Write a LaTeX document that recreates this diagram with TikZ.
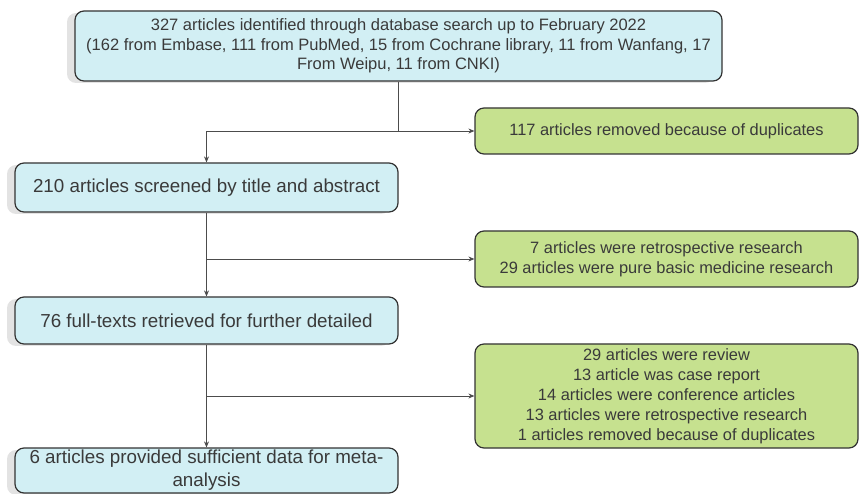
\documentclass[tikz,border=0pt]{standalone}
\usepackage{fontspec}
\setmainfont{Liberation Sans}
\usetikzlibrary{arrows.meta,positioning,shadows}
\definecolor{boxblue}{HTML}{D2EFF4}
\definecolor{boxgreen}{HTML}{C6E18F}
\definecolor{edgegray}{HTML}{333333}
\definecolor{txtgray}{HTML}{3A3A3A}
\tikzset{
  base/.style={draw=edgegray, line width=1.2pt, rounded corners=9pt, align=center, text=txtgray, inner sep=2pt},
  stage/.style={base, fill=boxblue, minimum width=383pt, font=\fontsize{18.8}{23}\selectfont,
    drop shadow={shadow xshift=-8pt, shadow yshift=-2pt, opacity=.22, fill=gray}},
  excl/.style={base, fill=boxgreen, minimum width=383pt, font=\fontsize{16.4}{20}\selectfont},
  arr/.style={draw=black!70, line width=0.8pt, -{Stealth[length=6pt,width=5pt]}}
}
\begin{document}
\begin{tikzpicture}[x=1pt,y=-1pt]
    \useasboundingbox (0,0) rectangle (860,494);
    % main stages
    \node[stage, minimum width=647pt, minimum height=70pt, font=\fontsize{16.5}{19.5}\selectfont] (ident) at (398.5,46)
      {327 articles identified through database search up to February 2022\\
       (162 from Embase, 111 from PubMed, 15 from Cochrane library, 11 from Wanfang, 17\\
       From Weipu, 11 from CNKI)};
    \node[stage, minimum height=49pt] (screen) at (206.5,187.5)
      {210 articles screened by title and abstract};
    \node[stage, minimum height=47pt] (fulltext) at (206.5,320.5)
      {76 full-texts retrieved for further detailed};
    \node[stage, minimum height=45pt] (incl) at (206.5,470.5)
      {6 articles provided sufficient data for meta-\\analysis};
    % exclusions
    \node[excl, minimum height=46pt] (dup) at (666.5,131)
      {117 articles removed because of duplicates};
    \node[excl, minimum height=56pt] (retro) at (666.5,259)
      {7 articles were retrospective research\\29 articles were pure basic medicine research};
    \node[excl, minimum height=104pt] (review) at (666.5,396)
      {29 articles were review\\13 article was case report\\14 articles were conference articles\\
       13 articles were retrospective research\\1 articles removed because of duplicates};
    % connectors
    \coordinate (j1) at (ident.south |- dup.west);
    \coordinate (j2) at (screen.south |- retro.west);
    \coordinate (j3) at (fulltext.south |- review.west);
    \draw[arr] (ident.south) |- (dup.west);
    \draw[arr] (j1) -| (screen.north);
    \draw[arr] (screen.south) -- (fulltext.north);
    \draw[arr] (j2) -- (retro.west);
    \draw[arr] (fulltext.south) -- (incl.north);
    \draw[arr] (j3) -- (review.west);
\end{tikzpicture}
\end{document}
